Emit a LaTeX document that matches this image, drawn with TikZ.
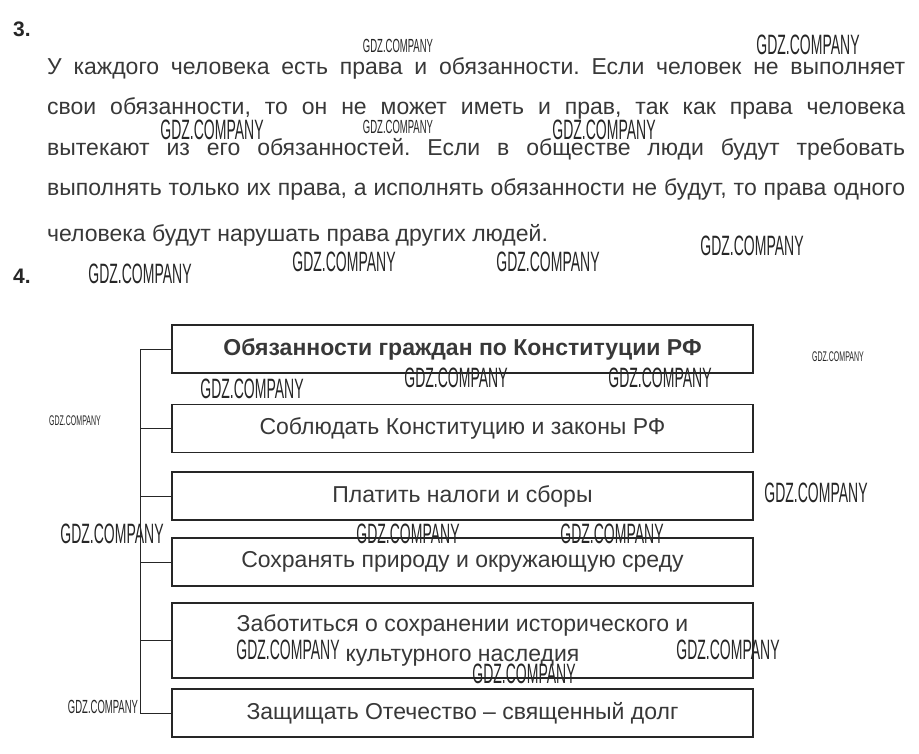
\documentclass[tikz,border=0pt]{standalone}
\usepackage{fontspec}
\usepackage{graphicx}
\setmainfont{Liberation Sans}
\definecolor{zzzzzz}{rgb}{0.22,0.22,0.22}
\definecolor{qqqqqq}{rgb}{0.15,0.15,0.15}
\tikzset{
  txt/.style={anchor=base west,inner sep=0pt,text=zzzzzz,font=\fontsize{23}{23}\selectfont},
  num/.style={anchor=base west,inner sep=0pt,text=qqqqqq,font=\bfseries\fontsize{21}{21}\selectfont},
  duty/.style={draw=qqqqqq,line width=1.8pt,minimum width=581pt,minimum height=48pt,inner sep=0pt,
    text=zzzzzz,align=center,font=\fontsize{23}{30}\selectfont},
  wm/.style={inner sep=0pt,text=qqqqqq}
}
\frenchspacing
\begin{document}
\begin{tikzpicture}[line cap=butt,line join=miter,x=1pt,y=-1pt]
	\useasboundingbox[fill=white] (0,0) rectangle (919,754);
	% task 3
	\node[num] (n3) at (13,37) {3.};
	\node[txt] (l1) at (47,75) {\makebox[858pt][s]{У каждого человека есть права и обязанности. Если человек не выполняет}};
	\node[txt] (l2) at (47,115) {\makebox[858pt][s]{свои обязанности, то он не может иметь и прав, так как права человека}};
	\node[txt] (l3) at (47,156) {\makebox[858pt][s]{вытекают из его обязанностей. Если в обществе люди будут требовать}};
	\node[txt] (l4) at (47,196) {\makebox[858pt][s]{выполнять только их права, а исполнять обязанности не будут, то права одного}};
	\node[txt] (l5) at (47,242) {человека будут нарушать права других людей.};
	% task 4
	\node[num] (n4) at (13,284) {4.};
	\node[duty,font=\bfseries\fontsize{23}{30}\selectfont] (b1) at (462.5,349) {Обязанности граждан по Конституции РФ};
	\node[duty] (b2) at (462.5,428.5) {Соблюдать Конституцию и законы РФ};
	\node[duty] (b3) at (462.5,496) {Платить налоги и сборы};
	\node[duty] (b4) at (462.5,562) {Сохранять природу и окружающую среду};
	\node[duty,minimum height=75pt] (b5) at (462.5,640.5) {Заботиться о сохранении исторического и\\культурного наследия};
	\node[duty] (b6) at (462.5,713) {Защищать Отечество -- священный долг};
	\coordinate (spine) at (140,349);
	\draw[qqqqqq,line width=1pt] (b1.west) -- (spine) |- (b6.west);
	\foreach \b in {b2,b3,b4,b5}
		\draw[qqqqqq,line width=1pt] (\b.west) -- (\b.west -| spine);
	% watermarks
	\foreach \x/\y/\s [count=\i] in {398/46/19,808/45/28,212/130/28,398/127/19,604/130/28,
		752/246/28,344/262/28,548/262/28,140/274/28,838/357/14,252/389/28,456/378/28,
		660/378/28,75/421/14,816/493/28,112/534/28,408/534/28,612/534/28,288/650/28,
		728/650/28,524/674/28,103/707/19}
		\node[wm] (wm\i) at (\x,\y) {\fontsize{\s}{\s}\selectfont\scalebox{0.5}[1]{GDZ.COMPANY}};
\end{tikzpicture}
\end{document}
